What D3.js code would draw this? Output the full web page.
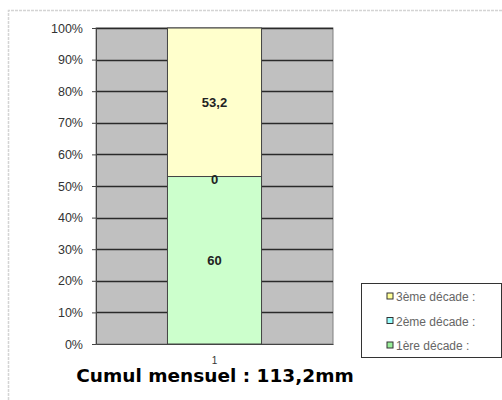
<!DOCTYPE html>
<html>
<head>
<meta charset="utf-8">
<script src="https://cdn.jsdelivr.net/npm/d3@7"></script>
<style>
  body { margin: 0; background: #fff; }
  svg { display: block; }
</style>
</head>
<body>
<div id="wrapper"></div>
<script>
// data
const categories = ["1"];
const seriesNames = ["1ère décade :", "2ème décade :", "3ème décade :"];
const seriesValues = [[60], [0], [53.2]];
const seriesColors = ["#ccffcc", "#ccffff", "#ffffcc"];
const legendColors = ["#99ee99", "#99ffff", "#ffff99"];
const yTicks = [0, 0.1, 0.2, 0.3, 0.4, 0.5, 0.6, 0.7, 0.8, 0.9, 1];
const totalLabel = "Cumul mensuel : 113,2mm";

let dimensions = {
  width: 502,
  height: 400,
  marginTop: 28,
  marginLeft: 96,
  plotWidth: 237,
  plotHeight: 316
};

const wrapper = d3.select("#wrapper")
  .append("svg")
    .attr("width", dimensions.width)
    .attr("height", dimensions.height);

// outer dotted frame
wrapper.append("path")
  .attr("d", "M8.5,420 V10.5 H502")
  .attr("fill", "none")
  .attr("stroke", "#d4d4d4")
  .attr("stroke-width", 1.5)
  .attr("stroke-dasharray", "3,1");

const bounds = wrapper.append("g")
  .attr("transform", `translate(${dimensions.marginLeft},${dimensions.marginTop})`);

// scales
const xScale = d3.scaleBand()
  .domain(categories)
  .range([0, dimensions.plotWidth])
  .paddingInner(0)
  .paddingOuter(0.76);

const yScale = d3.scaleLinear()
  .domain([0, 1])
  .range([dimensions.plotHeight, 0]);

// plot area
bounds.append("rect")
  .attr("width", dimensions.plotWidth)
  .attr("height", dimensions.plotHeight)
  .attr("fill", "#c0c0c0")
  .attr("stroke", "#808080");

// gridlines
bounds.selectAll(".grid")
  .data(yTicks.slice(1))
  .enter().append("line")
    .attr("x1", 0)
    .attr("x2", dimensions.plotWidth)
    .attr("y1", d => Math.round(yScale(d)) + 0.5)
    .attr("y2", d => Math.round(yScale(d)) + 0.5)
    .attr("stroke", "#2a2a2a")
    .attr("stroke-width", 1.5);

// stacked percent data
const rows = categories.map((c, i) => {
  const row = { cat: c };
  seriesNames.forEach((s, j) => row[s] = seriesValues[j][i]);
  return row;
});
const stack = d3.stack().keys(seriesNames).offset(d3.stackOffsetExpand);
const stacked = stack(rows);

stacked.forEach((layer, j) => {
  bounds.selectAll(".seg" + j)
    .data(layer)
    .enter().append("rect")
      .attr("x", d => xScale(d.data.cat))
      .attr("y", d => yScale(d[1]))
      .attr("width", xScale.bandwidth())
      .attr("height", d => yScale(d[0]) - yScale(d[1]))
      .attr("fill", seriesColors[j])
      .attr("stroke", "#444")
      .attr("stroke-width", 1);
});

// value labels
stacked.forEach((layer, j) => {
  bounds.selectAll(".lab" + j)
    .data(layer)
    .enter().append("text")
      .attr("x", d => xScale(d.data.cat) + xScale.bandwidth() / 2)
      .attr("y", d => yScale((d[0] + d[1]) / 2) + (d[1] - d[0] === 0 ? 7 : 5))
      .attr("text-anchor", "middle")
      .attr("font-family", "Liberation Sans, Arial, sans-serif")
      .attr("font-size", 13)
      .attr("font-weight", "bold")
      .attr("fill", "#222")
      .text(d => String(d.data[layer.key]).replace(".", ","));
});

// axes
const yAxis = bounds.append("g")
  .call(d3.axisLeft(yScale).tickValues(yTicks).tickFormat(d3.format(".0%")).tickSize(4).tickPadding(9));
yAxis.select(".domain").attr("stroke", "#444");
yAxis.selectAll("line").attr("stroke", "#444");
yAxis.selectAll("text")
  .attr("font-family", "Liberation Sans, Arial, sans-serif")
  .attr("font-size", 12.5)
  .attr("fill", "#333");

const xAxis = bounds.append("g")
  .attr("transform", `translate(0,${dimensions.plotHeight})`)
  .call(d3.axisBottom(xScale).tickSize(0).tickPadding(13));
xAxis.select(".domain").attr("stroke", "#444");
xAxis.selectAll("text")
  .attr("font-family", "Liberation Sans, Arial, sans-serif")
  .attr("font-size", 10)
  .attr("fill", "#333");

// total label
wrapper.append("text")
  .attr("x", 215)
  .attr("y", 382)
  .attr("text-anchor", "middle")
  .attr("font-family", "DejaVu Sans, Verdana, sans-serif")
  .attr("font-size", 18.5)
  .attr("font-weight", "bold")
  .attr("fill", "#000")
  .text(totalLabel);

// legend
const legend = wrapper.append("g").attr("transform", "translate(361,283)");
legend.append("rect")
  .attr("x", 0.5).attr("y", 0.5)
  .attr("width", 140).attr("height", 74)
  .attr("fill", "#fff")
  .attr("stroke", "#333");

const legendItems = seriesNames.map((s, j) => ({ name: s, color: legendColors[j] })).reverse();
const legendRow = legend.selectAll(".item")
  .data(legendItems)
  .enter().append("g")
    .attr("transform", (d, i) => `translate(0,${14 + i * 24.5})`);
legendRow.append("rect")
  .attr("x", 26).attr("y", -4)
  .attr("width", 6).attr("height", 6)
  .attr("fill", d => d.color)
  .attr("stroke", "#333");
legendRow.append("text")
  .attr("x", 35).attr("y", 4)
  .attr("font-family", "Liberation Sans, Arial, sans-serif")
  .attr("font-size", 12)
  .attr("fill", "#666")
  .text(d => d.name);
</script>
</body>
</html>
